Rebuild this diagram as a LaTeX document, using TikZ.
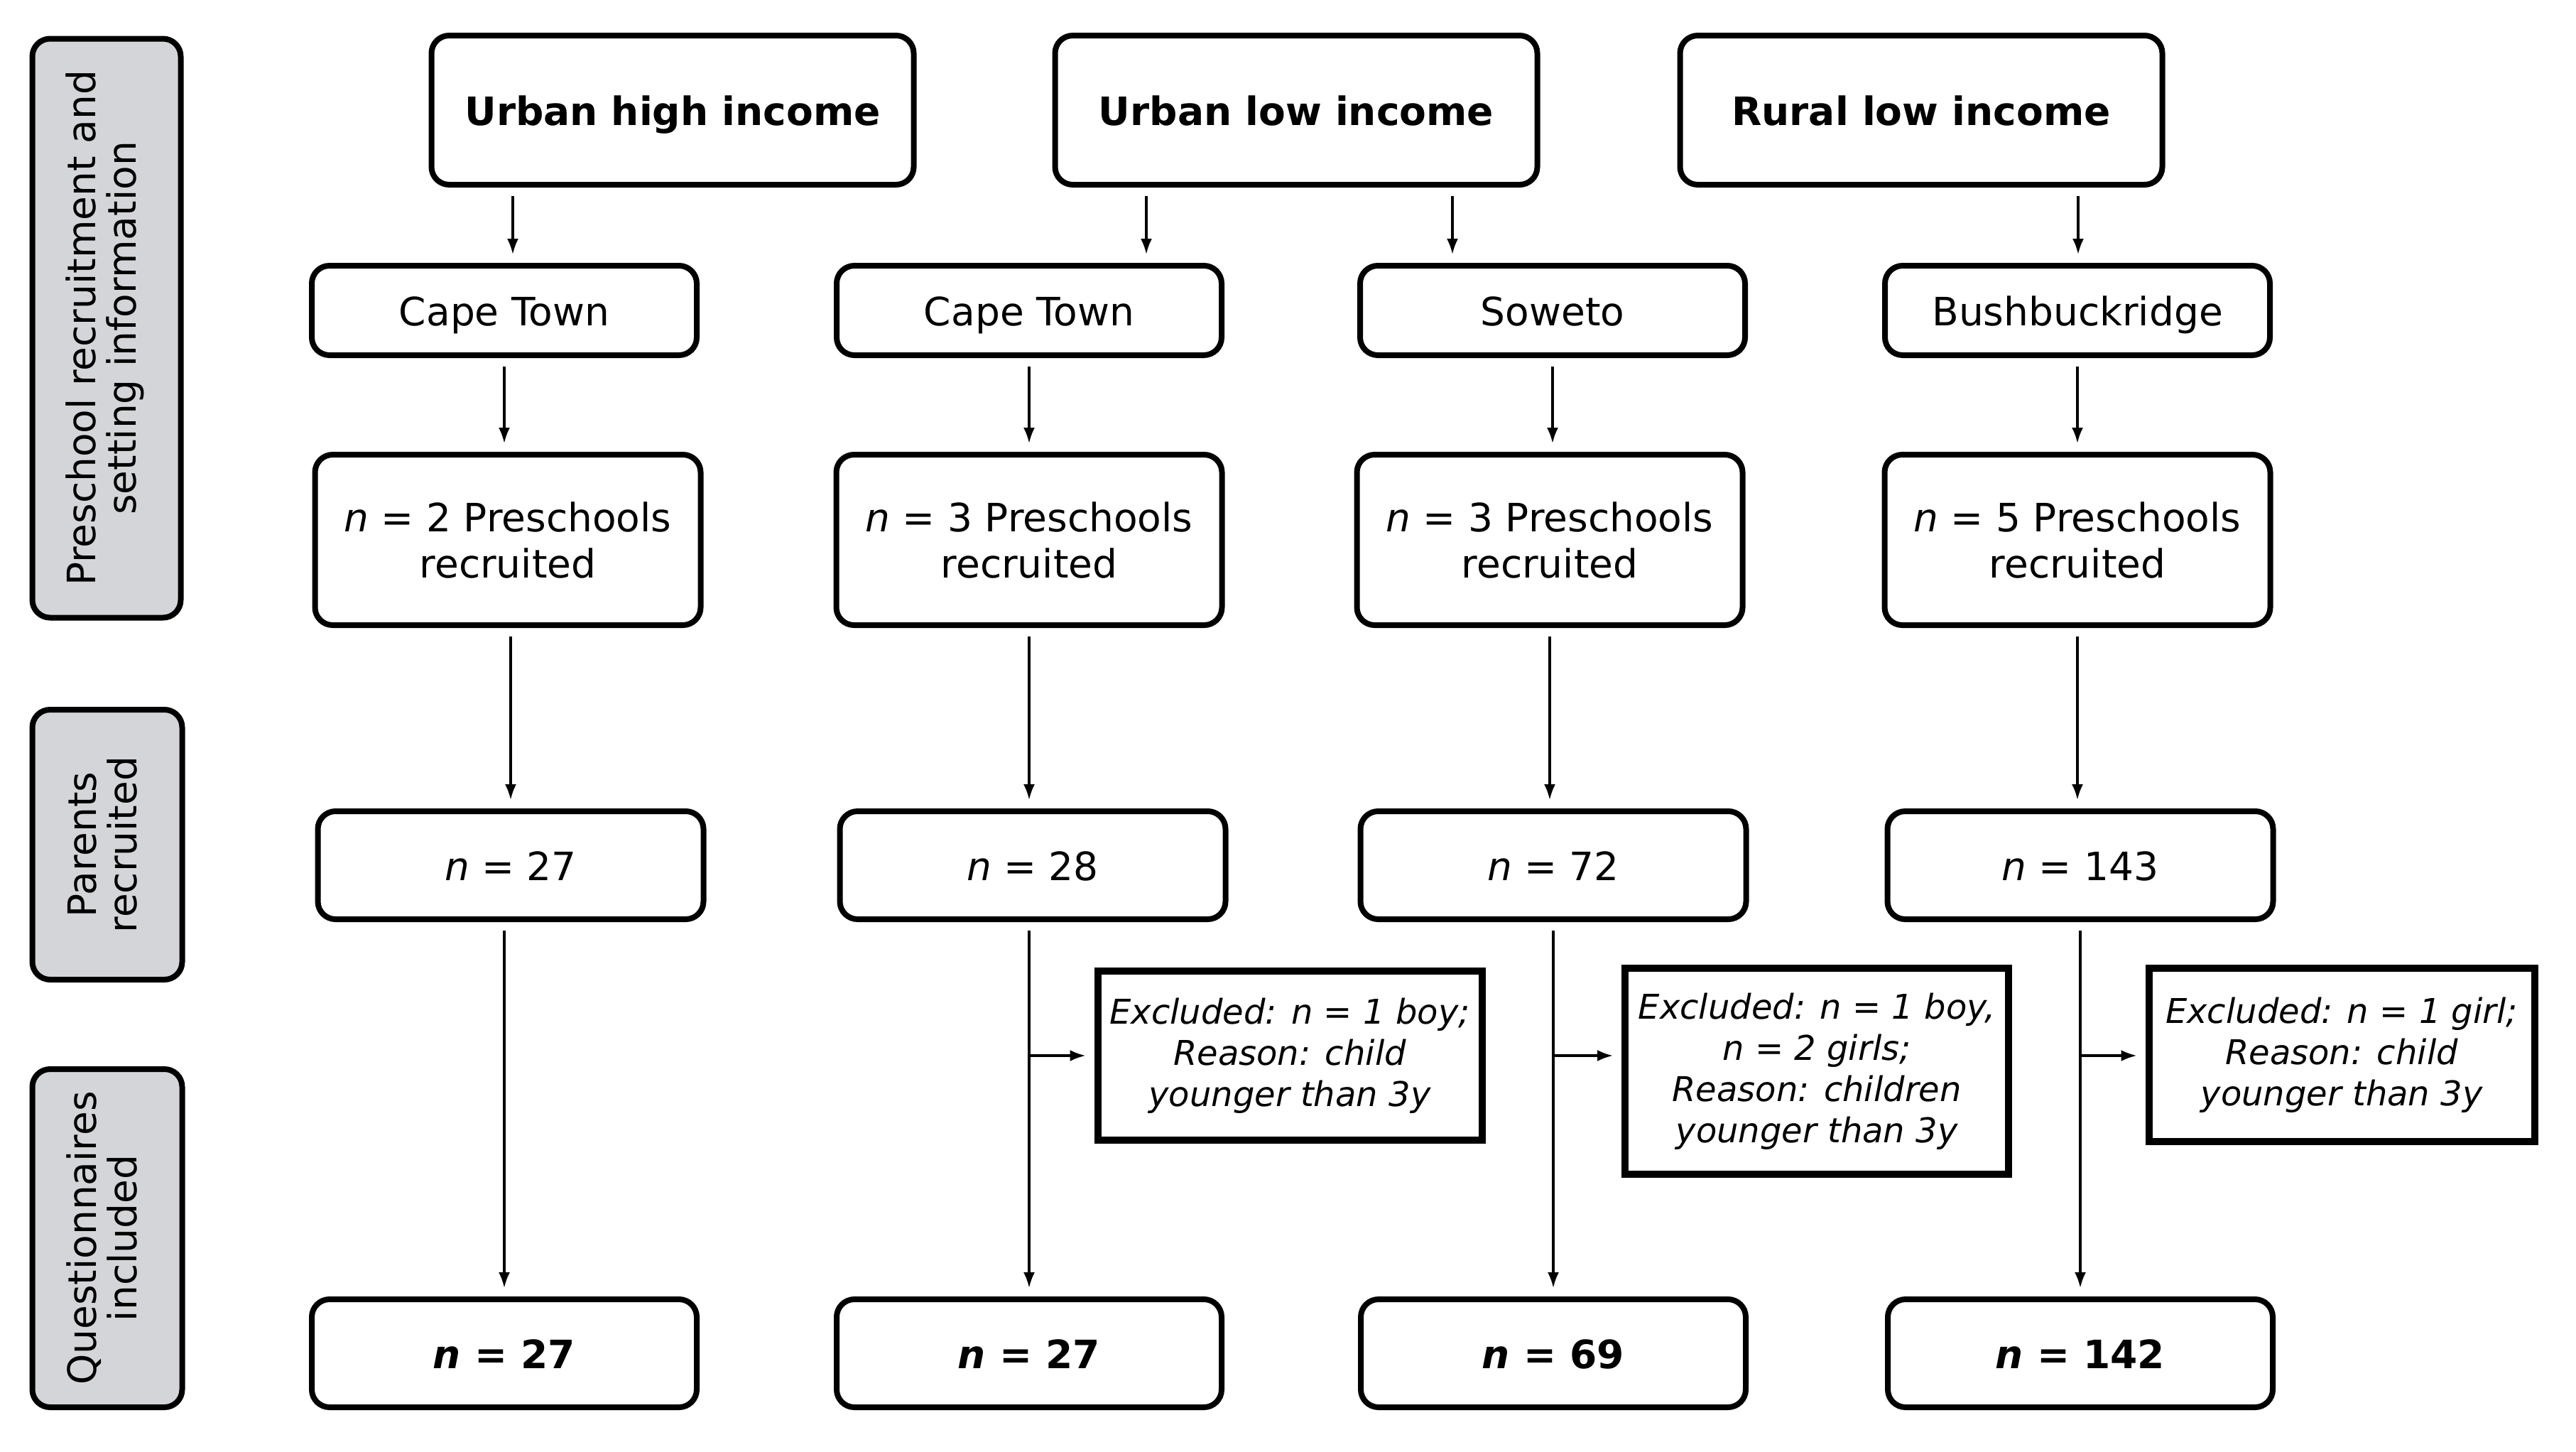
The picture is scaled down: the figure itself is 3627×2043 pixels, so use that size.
\documentclass[tikz,border=0pt]{standalone}
\usepackage{fontspec}
\setmainfont{DejaVu Sans}
\usetikzlibrary{arrows.meta}
\definecolor{lblgray}{RGB}{212,213,216}
\begin{document}
\begin{tikzpicture}[x=1pt,y=-1pt,
  every node/.style={font=\fontsize{55}{65}\selectfont},
  rbox/.style={draw, line width=8pt, rounded corners=25pt, align=center, inner sep=0pt},
  one/.style={text height=48pt, text depth=6pt},
  gbox/.style={rbox, fill=lblgray},
  ebox/.style={draw, line width=10pt, align=center, inner sep=0pt, font=\fontsize{48}{58}\selectfont\itshape},
  arr/.style={line width=3.2pt, -{Latex[length=22pt,width=16pt]}, shorten <=12pt, shorten >=12pt},
  barr/.style={line width=3.2pt, -{Latex[length=22pt,width=16pt]}, shorten >=12pt}
]
\useasboundingbox (0,0) rectangle (3627,2043);
\fill[white] (0,0) rectangle (3627,2043);

% side labels
\node[gbox, minimum width=209pt, minimum height=815pt] (g1) at (150,462)
  {\rotatebox{90}{\begin{tabular}{c}Preschool recruitment and\\[-8pt] setting information\end{tabular}}};
\node[gbox, minimum width=211pt, minimum height=380pt] (g2) at (151,1189)
  {\rotatebox{90}{\begin{tabular}{c}Parents\\[-8pt] recruited\end{tabular}}};
\node[gbox, minimum width=211pt, minimum height=476pt] (g3) at (151,1743)
  {\rotatebox{90}{\begin{tabular}{c}Questionnaires\\[-8pt] included\end{tabular}}};

% top row
\node[rbox, one, minimum width=679pt, minimum height=210pt, font=\fontsize{55}{65}\selectfont\bfseries] (uhi) at (947,155) {Urban high income};
\node[rbox, one, minimum width=679pt, minimum height=210pt, font=\fontsize{55}{65}\selectfont\bfseries] (uli) at (1825,155) {Urban low income};
\node[rbox, one, minimum width=679pt, minimum height=210pt, font=\fontsize{55}{65}\selectfont\bfseries] (rli) at (2705,155) {Rural low income};

% row 2
\node[rbox, one, minimum width=542pt, minimum height=126pt] (c1) at (710,437) {Cape Town};
\node[rbox, one, minimum width=542pt, minimum height=126pt] (c2) at (1449,437) {Cape Town};
\node[rbox, one, minimum width=542pt, minimum height=126pt] (c3) at (2186,437) {Soweto};
\node[rbox, one, minimum width=542pt, minimum height=126pt] (c4) at (2925,437) {Bushbuckridge};

% row 3
\node[rbox, minimum width=543pt, minimum height=240pt] (p1) at (715,760) {\textit{n} = 2 Preschools\\recruited};
\node[rbox, minimum width=543pt, minimum height=240pt] (p2) at (1449,760) {\textit{n} = 3 Preschools\\recruited};
\node[rbox, minimum width=543pt, minimum height=240pt] (p3) at (2182,760) {\textit{n} = 3 Preschools\\recruited};
\node[rbox, minimum width=543pt, minimum height=240pt] (p4) at (2925,760) {\textit{n} = 5 Preschools\\recruited};

% row 4
\node[rbox, one, minimum width=543pt, minimum height=152pt] (r1) at (719,1218) {\textit{n} = 27};
\node[rbox, one, minimum width=543pt, minimum height=152pt] (r2) at (1454,1218) {\textit{n} = 28};
\node[rbox, one, minimum width=543pt, minimum height=152pt] (r3) at (2187,1218) {\textit{n} = 72};
\node[rbox, one, minimum width=543pt, minimum height=152pt] (r4) at (2929,1218) {\textit{n} = 143};

% row 5
\node[rbox, one, minimum width=542pt, minimum height=152pt, font=\fontsize{55}{65}\selectfont\bfseries] (q1) at (710,1905) {\textit{n} = 27};
\node[rbox, one, minimum width=542pt, minimum height=152pt, font=\fontsize{55}{65}\selectfont\bfseries] (q2) at (1449,1905) {\textit{n} = 27};
\node[rbox, one, minimum width=542pt, minimum height=152pt, font=\fontsize{55}{65}\selectfont\bfseries] (q3) at (2187,1905) {\textit{n} = 69};
\node[rbox, one, minimum width=542pt, minimum height=152pt, font=\fontsize{55}{65}\selectfont\bfseries] (q4) at (2929,1905) {\textit{n} = 142};

% exclusion boxes
\node[ebox, minimum width=541pt, minimum height=238pt] (e1) at (1816,1486)
  {Excluded: n = 1 boy;\\Reason: child\\younger than 3y};
\node[ebox, minimum width=540pt, minimum height=290pt] (e2) at (2558,1508)
  {Excluded: n = 1 boy,\\n = 2 girls;\\Reason: children\\younger than 3y};
\node[ebox, minimum width=543pt, minimum height=244pt] (e3) at (3297,1485)
  {Excluded: n = 1 girl;\\Reason: child\\younger than 3y};

% arrows top -> row 2
\coordinate (t1) at ([xshift=-225pt]uhi.south);
\coordinate (t2) at ([xshift=-211pt]uli.south);
\coordinate (t3) at ([xshift=220pt]uli.south);
\coordinate (t4) at ([xshift=221pt]rli.south);
\draw[arr] (t1) -- (t1 |- c1.north);
\draw[arr] (t2) -- (t2 |- c2.north);
\draw[arr] (t3) -- (t3 |- c3.north);
\draw[arr] (t4) -- (t4 |- c4.north);

% row 2 -> row 3
\draw[arr] (c1.south) -- (c1.south |- p1.north);
\draw[arr] (c2.south) -- (c2.south |- p2.north);
\draw[arr] (c3.south) -- (c3.south |- p3.north);
\draw[arr] (c4.south) -- (c4.south |- p4.north);

% row 3 -> row 4
\draw[arr] (r1.north |- p1.south) -- (r1.north);
\draw[arr] (p2.south) -- (p2.south |- r2.north);
\draw[arr] (p3.south) -- (p3.south |- r3.north);
\draw[arr] (p4.south) -- (p4.south |- r4.north);

% row 4 -> row 5
\draw[arr] (q1.north |- r1.south) -- (q1.north);
\draw[arr] (q2.north |- r2.south) -- (q2.north);
\draw[arr] (r3.south) -- (r3.south |- q3.north);
\draw[arr] (r4.south) -- (r4.south |- q4.north);

% branches to exclusions
\draw[barr] (q2.north |- e1.west) -- (e1.west);
\draw[barr] (r3.south |- e1.west) -- (e2.west |- e1.west);
\draw[barr] (r4.south |- e1.west) -- (e3.west |- e1.west);
\end{tikzpicture}
\end{document}
